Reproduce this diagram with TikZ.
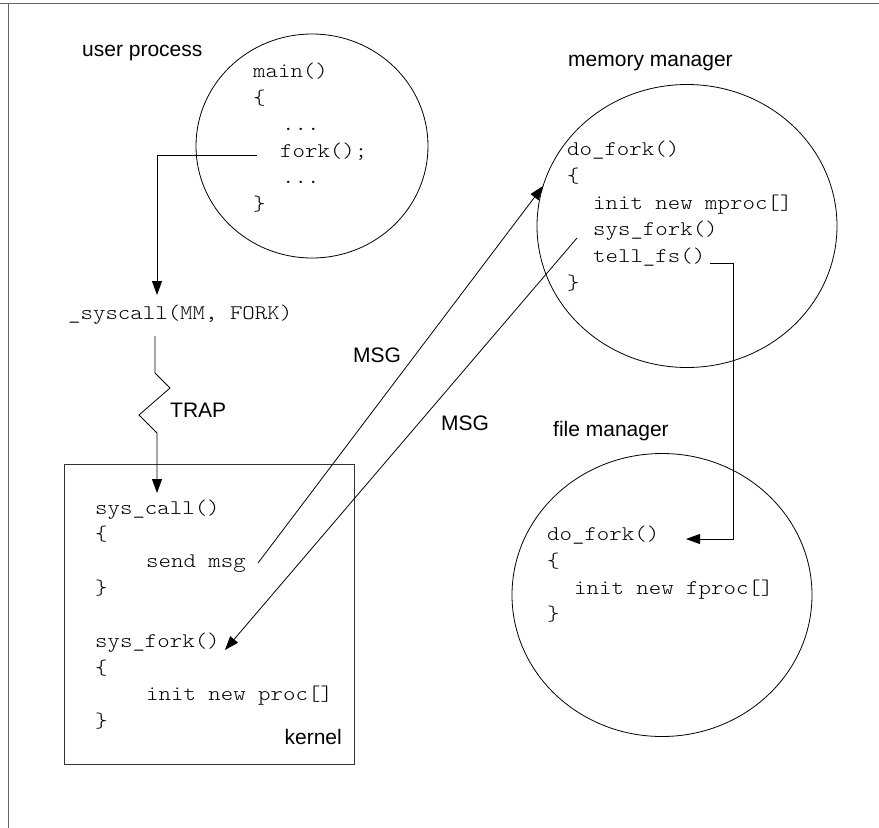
\documentclass[tikz,border=0pt]{standalone}
\usepackage{fontspec}
\setmainfont{Liberation Sans}
\setsansfont{Liberation Sans}
\setmonofont{Latin Modern Mono Light}[FakeStretch=1.14]
\usetikzlibrary{arrows.meta,shapes.geometric}
\begin{document}
\begin{tikzpicture}[x=1pt,y=-1pt,
  code/.style={anchor=mid west, inner sep=0pt, font=\fontsize{20.8}{25}\selectfont\ttfamily},
  lab/.style={anchor=mid west, inner sep=0pt, font=\fontsize{21}{25}\selectfont\sffamily},
  conn/.style={line width=0.8pt, draw=black},
  tip/.style={-{Triangle[length=14pt,width=10pt]}},
  proc/.style={draw, ellipse, line width=0.8pt, inner sep=0pt}]
\useasboundingbox (0,0) rectangle (879,828);
% frame
\draw[line width=1.6pt, draw=black!60] (0,3.5) -- (879,3.5);
\draw[line width=1.6pt, draw=black!60] (8.5,3.5) -- (8.5,828);

% user process
\node[proc, minimum width=232pt, minimum height=224pt] (up) at (312,146) {};
\node[lab] (uplab) at (82,54) {user process};
\node[code] (umain) at (253,75) {main()};
\node[code] (ub1) at (253,102) {\{};
\node[code] (ud1) at (282,128) {...};
\node[code] (fork) at (280,155) {fork();};
\node[code] (ud2) at (282,181) {...};
\node[code] (ub2) at (253,208) {\}};

% syscall
\node[code] (syscall) at (68,317) {\_syscall(MM, FORK)};
\node[lab] (trap) at (170,415) {TRAP};

% kernel
\node[draw=black!80, line width=0.8pt, minimum width=290pt, minimum height=300pt, inner sep=0pt] (kernel) at (209,614) {};
\node[code] (kcall) at (95,512) {sys\_call()};
\node[code] (kb1) at (95,538) {\{};
\node[code] (send) at (146,565) {send msg};
\node[code] (kb2) at (95,592) {\}};
\node[code] (kfork) at (95,645) {sys\_fork()};
\node[code] (kb3) at (95,672) {\{};
\node[code] (kinit) at (146,698) {init new proc[]};
\node[code] (kb4) at (95,725) {\}};
\node[lab, anchor=mid east] (klab) at (342,742) {kernel};

% memory manager
\node[proc, minimum width=300pt, minimum height=283pt] (mm) at (687,226) {};
\node[lab] (mmlab) at (568,64) {memory manager};
\node[code] (mdo) at (567,153) {do\_fork()};
\node[code] (mb1) at (567,180) {\{};
\node[code] (minit) at (593,207) {init new mproc[]};
\node[code] (msys) at (593,233) {sys\_fork()};
\node[code] (tellfs) at (593,260) {tell\_fs()};
\node[code] (mb2) at (567,287) {\}};

% file manager
\node[proc, minimum width=300pt, minimum height=283pt] (fm) at (662,595) {};
\node[lab] (fmlab) at (553,434) {file manager};
\node[code] (fdo) at (547,538) {do\_fork()};
\node[code] (fb1) at (547,565) {\{};
\node[code] (finit) at (574,592) {init new fproc[]};
\node[code] (fb2) at (547,618) {\}};

% MSG labels
\node[lab] (msg1) at (353,360) {MSG};
\node[lab] (msg2) at (441,428) {MSG};

% coordinates
\coordinate (forkstart) at (257,155);
\coordinate (scin) at (157,295);
\coordinate (scout) at (155,336);
\coordinate (z1) at (155,373);
\coordinate (z2) at (170,388);
\coordinate (z3) at (139,415);
\coordinate (z4) at (157,433);
\coordinate (kin) at (157,493);
\coordinate (sendstart) at (258,563);
\coordinate (mmin) at (543,186);
\coordinate (msysstart) at (577,238);
\coordinate (kforkin) at (225,650);
\coordinate (tellstart) at (710,263);
\coordinate (tellcorner) at (733,263);
\coordinate (fmin) at (686,539);

% connectors
\draw[conn,tip] (forkstart) -| (scin);
\draw[conn,tip] (scout) -- (z1) -- (z2) -- (z3) -- (z4) -- (kin);
\draw[conn,tip] (sendstart) -- (mmin);
\draw[conn,tip] (msysstart) -- (kforkin);
\draw[conn,tip] (tellstart) -- (tellcorner) |- (fmin);
\end{tikzpicture}
\end{document}
